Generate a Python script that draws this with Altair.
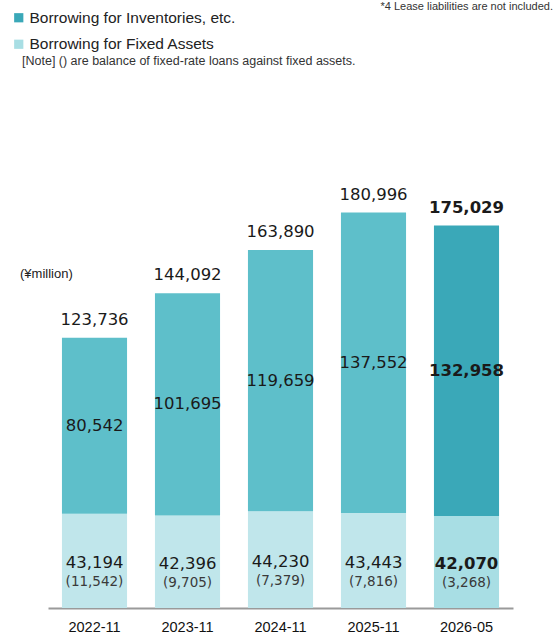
import altair as alt
import pandas as pd

periods = ["2022-11", "2023-11", "2024-11", "2025-11", "2026-05"]
inventories = [80542, 101695, 119659, 137552, 132958]
fixed_assets = [43194, 42396, 44230, 43443, 42070]
fixed_rate = [11542, 9705, 7379, 7816, 3268]
totals = [123736, 144092, 163890, 180996, 175029]
forecast = [False, False, False, False, True]

INV = "Borrowing for Inventories, etc."
FIX = "Borrowing for Fixed Assets"

rows = []
for p, inv, fx, fr, tot, fc in zip(periods, inventories, fixed_assets, fixed_rate, totals, forecast):
    rows.append(dict(period=p, series=FIX if fc else "fix_p", start=0, end=fx,
                     mid=fx / 2, label=f"{fx:,}", sub=f"({fr:,})", seg="fix", fc=fc, total=tot,
                     tlabel=f"{tot:,}"))
    rows.append(dict(period=p, series=INV if fc else "inv_p", start=fx, end=fx + inv,
                     mid=fx + inv / 2, label=f"{inv:,}", sub="", seg="inv", fc=fc, total=tot,
                     tlabel=f"{tot:,}"))
df = pd.DataFrame(rows)

VFONT = "DejaVu Sans"
AFONT = "Liberation Sans"

x = alt.X("period:N", sort=periods, title=None,
          scale=alt.Scale(paddingInner=0.3, paddingOuter=0.15),
          axis=alt.Axis(labelAngle=0, labelFont=AFONT, labelFontSize=14.5, labelColor="#111",
                        labelPadding=12, ticks=False, domainColor="#9a9a9a", domainWidth=2))
yscale = alt.Scale(domain=[0, 278300], nice=False, zero=True)

base = alt.Chart(df)

bars = base.mark_bar().encode(
    x=x,
    y=alt.Y("start:Q", scale=yscale, axis=None),
    y2="end:Q",
    color=alt.Color("series:N",
                    scale=alt.Scale(domain=[INV, FIX, "inv_p", "fix_p"],
                                    range=["#3AA8B8", "#A8DEE4", "#5EBFCA", "#C0E6EB"]),
                    legend=alt.Legend(values=[INV, FIX], title=None, orient="none",
                                      legendX=-37, legendY=10, symbolType="square",
                                      symbolSize=85, symbolStrokeWidth=0,
                                      labelFont=AFONT, labelFontSize=15.5, labelColor="#222",
                                      labelOffset=3, rowPadding=9.5, padding=0,
                                      labelLimit=400)),
)

def seg_text(seg, fc, field, dy, size, bold, color):
    return base.transform_filter(
        (alt.datum.seg == seg) & (alt.datum.fc == fc)
    ).mark_text(font=VFONT, fontSize=size, fontWeight="bold" if bold else "normal",
                color=color, dy=dy, baseline="middle").encode(
        x=x, y=alt.Y("mid:Q", scale=yscale), text=f"{field}:N")

layers = [bars]
for fc in [False, True]:
    layers.append(seg_text("inv", fc, "label", 0, 16.5, fc, "#1a1a1a"))
    layers.append(seg_text("fix", fc, "label", 2, 16.5, fc, "#1a1a1a"))
    layers.append(seg_text("fix", fc, "sub", 21, 13.5, False, "#3a3a3a"))
    layers.append(base.transform_filter((alt.datum.seg == "inv") & (alt.datum.fc == fc)).mark_text(
        font=VFONT, fontSize=16.5, fontWeight="bold" if fc else "normal", color="#1a1a1a",
        dy=-18, baseline="middle").encode(x=x, y=alt.Y("end:Q", scale=yscale), text="tlabel:N"))

notes = pd.DataFrame({"t": ["*4 Lease liabilities are not included."]})
layers.append(alt.Chart(notes).mark_text(font=AFONT, fontSize=11, color="#333", align="right",
                                          baseline="middle").encode(
    x=alt.value(505), y=alt.value(7), text="t:N"))
note2 = pd.DataFrame({"t": ["[Note] () are balance of fixed-rate loans against fixed assets."]})
layers.append(alt.Chart(note2).mark_text(font=AFONT, fontSize=12.5, color="#333", align="left",
                                          baseline="middle").encode(
    x=alt.value(-26), y=alt.value(61), text="t:N"))
unit = pd.DataFrame({"t": ["(¥million)"]})
layers.append(alt.Chart(unit).mark_text(font=AFONT, fontSize=13, color="#222", align="left",
                                         baseline="middle").encode(
    x=alt.value(-28), y=alt.value(274), text="t:N"))

chart = alt.layer(*layers).properties(
    width=465, height=608,
    autosize=alt.AutoSizeParams(type="none"),
    padding={"left": 48, "top": 0, "right": 45, "bottom": 25},
    background="white",
).configure_view(strokeWidth=0, stroke=None)

chart.save("out.html", embed_options={"renderer": "svg", "actions": False})
